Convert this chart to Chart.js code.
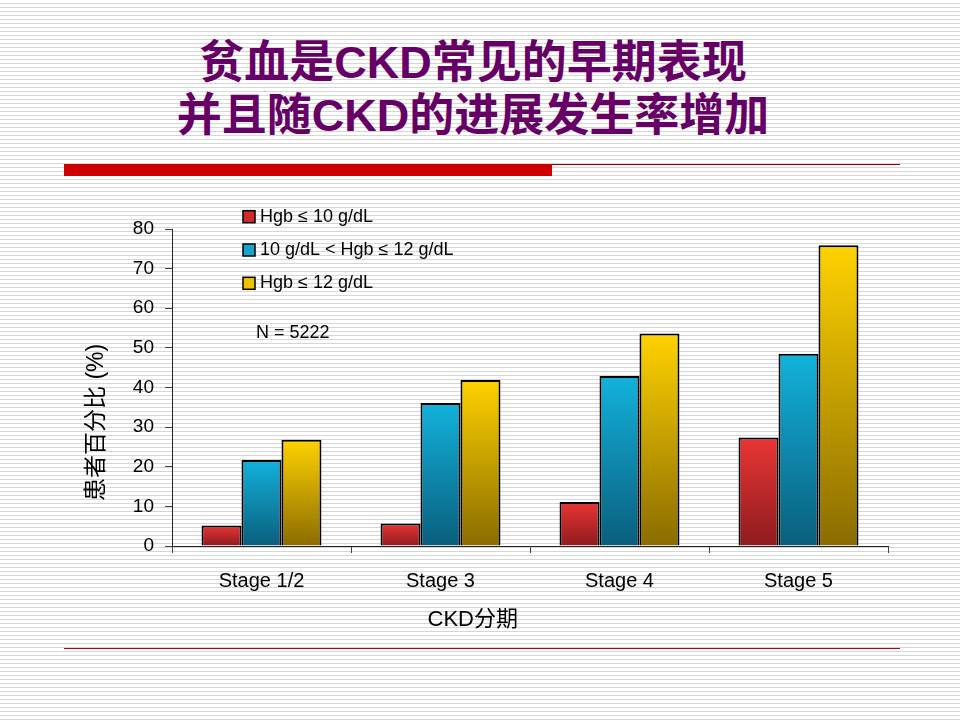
<!DOCTYPE html>
<html>
<head>
<meta charset="utf-8">
<script src="https://cdn.jsdelivr.net/npm/chart.js@4"></script>
<style>
  html, body { margin: 0; padding: 0; }
  body {
    width: 960px; height: 720px; position: relative; overflow: hidden;
    background: repeating-linear-gradient(to bottom, #ffffff 0px, #ffffff 3px, #d6d6d6 3px, #d6d6d6 4px);
  }
  #title {
    position: absolute; left: 0; top: 36px; width: 946px;
    text-align: center; color: #660066;
    font: bold 45px/53px "Liberation Sans", "Noto Sans CJK SC", sans-serif;
  }
  .redBar { position: absolute; left: 64px; top: 164px; width: 488px; height: 12px; background: #cc0000; }
  .thinTop { position: absolute; left: 552px; top: 164px; width: 348px; height: 1px; background: #990000; }
  .thinBottom { position: absolute; left: 64px; top: 648px; width: 836px; height: 1px; background: #b80000; }
  #myChart { position: absolute; left: 0; top: 0; }
</style>
</head>
<body>
<div id="title">贫血是CKD常见的早期表现<br>并且随CKD的进展发生率增加</div>
<div class="redBar"></div>
<div class="thinTop"></div>
<div class="thinBottom"></div>
<canvas id="myChart" width="960" height="720"></canvas>

<script>
// data
const stages = ['Stage 1/2', 'Stage 3', 'Stage 4', 'Stage 5'];
const seriesNames = ['Hgb ≤ 10 g/dL', '10 g/dL < Hgb ≤ 12 g/dL', 'Hgb ≤ 12 g/dL'];
const hgbLow = [5.2, 5.7, 11.1, 27.4];
const hgbMid = [21.7, 36.1, 42.9, 48.5];
const hgbHigh = [26.8, 41.9, 53.6, 75.9];
const yMin = 0, yMax = 80, yStep = 10;
const sampleNote = 'N = 5222';
const xTitle = 'CKD分期';
const yTitle = '患者百分比 (%)';

const sansFont = '"Liberation Sans", "Noto Sans CJK SC", sans-serif';

// top / bottom colours of each bar, plus the flat legend swatch
const barColors = [
    {top: '#ea3535', bottom: '#8e1b1e', swatch: '#d22a2a'},
    {top: '#12b2dc', bottom: '#0a5e7c', swatch: '#16a4cc'},
    {top: '#ffd200', bottom: '#8a6c00', swatch: '#eec200'}
];

// vertical gradient for every bar, from its top down to zero
function barGradient(c){
    return function(context){
        let chart = context.chart;
        if(!chart.chartArea || context.type !== 'data'){
            return c.swatch;
        }
        let y = chart.scales.y;
        let y0 = y.getPixelForValue(0);
        let y1 = y.getPixelForValue(context.raw);
        if(Math.abs(y0 - y1) < 1) return c.swatch;
        let g = chart.ctx.createLinearGradient(0, y1, 0, y0);
        g.addColorStop(0, c.top);
        g.addColorStop(1, c.bottom);
        return g;
    };
}

// legend, sample size and the axis titles drawn by hand so they sit where the slide has them
const slideText = {
    id: 'slideText',
    afterDraw(chart){
        let ctx = chart.ctx;
        let area = chart.chartArea;
        ctx.save();
        ctx.font = '18px ' + sansFont;
        ctx.textBaseline = 'middle';
        ctx.textAlign = 'left';
        chart.data.datasets.forEach(function(ds, i){
            let cy = area.top - 12.3 + i * 33.3;
            let bx = area.left + 71;
            ctx.fillStyle = barColors[i].swatch;
            ctx.fillRect(bx, cy - 6, 12, 12);
            ctx.lineWidth = 1.5;
            ctx.strokeStyle = '#000';
            ctx.strokeRect(bx, cy - 6, 12, 12);
            ctx.fillStyle = '#000';
            ctx.fillText(ds.label, bx + 17, cy);
        });
        ctx.fillText(sampleNote, area.left + 84, area.top + 104);

        ctx.font = '22px ' + sansFont;
        ctx.textAlign = 'center';
        ctx.fillText(xTitle, area.left + (area.right - area.left) * 0.42, 620);

        // y title, rotated, sitting a bit below the middle of the axis
        ctx.font = '23px ' + sansFont;
        ctx.translate(area.left - 75, area.top + (area.bottom - area.top) * 0.61);
        ctx.rotate(-Math.PI / 2);
        ctx.fillText(yTitle, 0, 0);
        ctx.restore();
    }
};

let ctx = document.getElementById('myChart').getContext('2d');
let myBarChart = new Chart(ctx, {
    type: 'bar',
    data: {
        labels: stages,
        datasets: [hgbLow, hgbMid, hgbHigh].map(function(values, i){
            return {
                label: seriesNames[i],
                data: values,
                backgroundColor: barGradient(barColors[i]),
                borderColor: '#000',
                borderWidth: 2,
                borderSkipped: 'bottom',
                categoryPercentage: 0.67,
                barPercentage: 1.0
            };
        })
    },
    options: {
        responsive: false,
        animation: false,
        layout: {padding: {left: 80, right: 72, top: 229, bottom: 84}},
        plugins: {
            legend: {display: false},
            tooltip: {enabled: false}
        },
        scales: {
            x: {
                grid: {display: true, drawOnChartArea: false, offset: true, tickLength: 7, color: '#444'},
                border: {color: '#222', width: 1},
                ticks: {color: '#000', padding: 16, font: {family: sansFont, size: 20}},
                afterFit: function(scale){ scale.height = 90; }
            },
            y: {
                min: yMin,
                max: yMax,
                grid: {display: true, drawOnChartArea: false, tickLength: 7, color: '#444'},
                border: {color: '#222', width: 1},
                ticks: {stepSize: yStep, color: '#000', padding: 11, font: {family: sansFont, size: 19}},
                afterFit: function(scale){ scale.width = 92; }
            }
        }
    },
    plugins: [slideText]
});
</script>
</body>
</html>
